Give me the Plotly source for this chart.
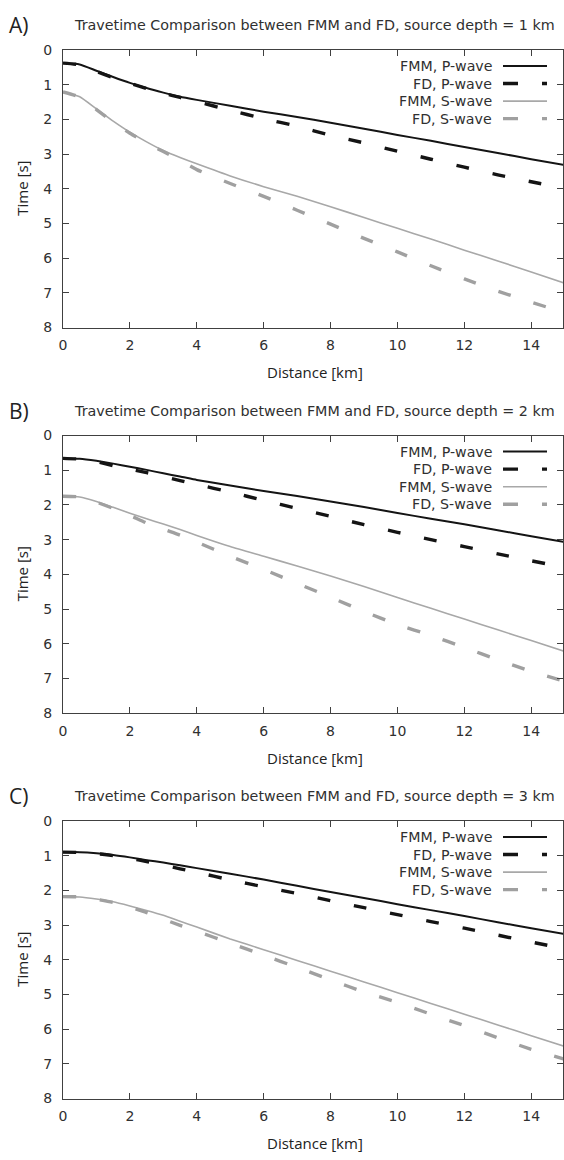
import plotly.graph_objects as go
from plotly.subplots import make_subplots

# Receiver distance along the surface [km]
distance = [0, 0.5, 1, 1.5, 2, 2.5, 3, 3.5, 4, 5, 6, 7, 8, 9, 10, 11, 12, 13, 14, 15]

panel_letters = ["A)", "B)", "C)"]
source_depths = [1, 2, 3]

# Travel times [s], source depth = 1 km
fmm_p_1 = [0.38, 0.42, 0.60, 0.78, 0.95, 1.10, 1.23, 1.35, 1.44, 1.61, 1.78, 1.93, 2.10, 2.27, 2.45, 2.62, 2.80, 2.97, 3.15, 3.32]
fd_p_1 = [0.38, 0.43, 0.62, 0.80, 0.96, 1.11, 1.25, 1.37, 1.49, 1.74, 1.98, 2.20, 2.46, 2.68, 2.92, 3.15, 3.38, 3.60, 3.80, 3.99]
fmm_s_1 = [1.21, 1.35, 1.70, 2.05, 2.37, 2.65, 2.90, 3.10, 3.28, 3.63, 3.94, 4.22, 4.52, 4.83, 5.14, 5.45, 5.77, 6.08, 6.40, 6.72]
fd_s_1 = [1.21, 1.36, 1.72, 2.08, 2.40, 2.68, 2.93, 3.18, 3.45, 3.85, 4.22, 4.62, 5.02, 5.43, 5.82, 6.22, 6.60, 6.95, 7.27, 7.57]

# Travel times [s], source depth = 2 km
fmm_p_2 = [0.66, 0.67, 0.73, 0.81, 0.90, 0.99, 1.09, 1.18, 1.28, 1.44, 1.60, 1.74, 1.90, 2.06, 2.23, 2.40, 2.56, 2.73, 2.90, 3.07]
fd_p_2 = [0.66, 0.68, 0.75, 0.87, 0.97, 1.07, 1.18, 1.30, 1.41, 1.63, 1.87, 2.10, 2.33, 2.57, 2.79, 3.00, 3.20, 3.41, 3.61, 3.80]
fmm_s_2 = [1.75, 1.77, 1.90, 2.07, 2.24, 2.40, 2.55, 2.71, 2.88, 3.20, 3.48, 3.76, 4.05, 4.35, 4.67, 4.98, 5.29, 5.60, 5.91, 6.22]
fd_s_2 = [1.75, 1.77, 1.92, 2.10, 2.30, 2.52, 2.70, 2.87, 3.07, 3.48, 3.86, 4.26, 4.66, 5.07, 5.45, 5.76, 6.11, 6.46, 6.80, 7.08]

# Travel times [s], source depth = 3 km
fmm_p_3 = [0.90, 0.90, 0.93, 0.98, 1.05, 1.13, 1.20, 1.28, 1.36, 1.52, 1.69, 1.87, 2.05, 2.22, 2.40, 2.57, 2.74, 2.92, 3.09, 3.26]
fd_p_3 = [0.90, 0.91, 0.94, 1.00, 1.08, 1.17, 1.27, 1.38, 1.48, 1.70, 1.90, 2.09, 2.30, 2.50, 2.70, 2.90, 3.09, 3.29, 3.49, 3.68]
fmm_s_3 = [2.18, 2.19, 2.25, 2.33, 2.45, 2.58, 2.72, 2.89, 3.06, 3.40, 3.71, 4.02, 4.33, 4.64, 4.95, 5.26, 5.57, 5.88, 6.19, 6.50]
fd_s_3 = [2.18, 2.19, 2.26, 2.35, 2.48, 2.64, 2.83, 3.01, 3.18, 3.52, 3.87, 4.22, 4.58, 4.93, 5.23, 5.57, 5.90, 6.25, 6.58, 6.87]

series_names = ["FMM, P-wave", "FD, P-wave", "FMM, S-wave", "FD, S-wave"]
panels = [
    [fmm_p_1, fd_p_1, fmm_s_1, fd_s_1],
    [fmm_p_2, fd_p_2, fmm_s_2, fd_s_2],
    [fmm_p_3, fd_p_3, fmm_s_3, fd_s_3],
]

x_ticks = [0, 2, 4, 6, 8, 10, 12, 14]
y_ticks = [0, 1, 2, 3, 4, 5, 6, 7, 8]

# line styles for the four series
DASH = "13px,24px"
styles = [
    dict(color="#141414", width=2.0, dash="solid"),
    dict(color="#141414", width=3.4, dash=DASH),
    dict(color="#a8a8a8", width=1.6, dash="solid"),
    dict(color="#a0a0a0", width=3.4, dash=DASH),
]

W, H = 564, 1160
ML, MR = 63, 1
PLOT_W = W - ML - MR
panel_tops = [42.5, 433.5, 824.3]   # pixel rows of the top frame edges
PANEL_H = 281.5

TICK_FONT = "DejaVu Sans"
LABEL_FONT = "Open Sans"
TEXT_COLOR = "#303030"
AXIS_COLOR = "#404040"


def px_x(px):
    return (px - ML) / PLOT_W


def px_y(py):
    return 1 - py / H


fig = make_subplots(rows=3, cols=1)

for i, series in enumerate(panels):
    for name, vals, st in zip(series_names, series, styles):
        fig.add_trace(
            go.Scatter(
                x=distance, y=vals, mode="lines", name=name, showlegend=False,
                line=dict(color=st["color"], width=st["width"], dash=st["dash"],
                          shape="spline", smoothing=0.5),
            ),
            row=i + 1, col=1,
        )

annotations = []
shapes = []
for i in range(3):
    top = panel_tops[i]
    bottom = top + PANEL_H
    suffix = "" if i == 0 else str(i + 1)
    fig.layout["yaxis" + suffix].domain = [px_y(bottom), px_y(top)]
    fig.layout["xaxis" + suffix].domain = [0, 1]

    # panel letter and title
    annotations.append(dict(
        text=panel_letters[i], xref="paper", yref="paper",
        x=px_x(7), y=px_y(top - 25), xanchor="left", yanchor="middle",
        showarrow=False, font=dict(family=LABEL_FONT, size=21, color="#222")))
    annotations.append(dict(
        text=f"Travetime Comparison between FMM and FD, source depth = {source_depths[i]} km",
        xref="paper", yref="paper", x=px_x(314), y=px_y(top - 25),
        xanchor="center", yanchor="middle", showarrow=False,
        font=dict(family=TICK_FONT, size=14.3, color=TEXT_COLOR)))
    # axis titles
    annotations.append(dict(
        text="Distance [km]", xref="paper", yref="paper", x=px_x(315), y=px_y(bottom + 45),
        xanchor="center", yanchor="middle", showarrow=False,
        font=dict(family=LABEL_FONT, size=15, color="#222")))
    annotations.append(dict(
        text="Time [s]", xref="paper", yref="paper", x=px_x(22), y=px_y(top + PANEL_H / 2),
        xanchor="center", yanchor="middle", showarrow=False, textangle=-90,
        font=dict(family=LABEL_FONT, size=15, color="#222")))

    # key in the upper right corner: right-aligned labels, line samples to the right
    for k, (name, st) in enumerate(zip(series_names, styles)):
        row_y = top + 16.3 + k * 17.8
        annotations.append(dict(
            text=name, xref="paper", yref="paper", x=px_x(494), y=px_y(row_y),
            xanchor="right", yanchor="middle", showarrow=False,
            font=dict(family=TICK_FONT, size=14.2, color=TEXT_COLOR)))
        dashed = st["dash"] != "solid"
        shapes.append(dict(
            type="line", xref="paper", yref="paper",
            x0=px_x(503), x1=px_x(547), y0=px_y(row_y), y1=px_y(row_y),
            line=dict(color=st["color"], width=st["width"],
                      dash="15px,24px" if dashed else "solid")))

axis_common = dict(
    showline=True, linecolor=AXIS_COLOR, linewidth=1, mirror="allticks",
    ticks="inside", ticklen=6, tickcolor=AXIS_COLOR, tickwidth=1,
    showgrid=False, zeroline=False,
    tickfont=dict(family=TICK_FONT, size=14, color=TEXT_COLOR),
)
fig.update_xaxes(range=[0, 14.95], tickvals=x_ticks, ticklabelstandoff=5, **axis_common)
fig.update_yaxes(range=[8, 0], tickvals=y_ticks, ticklabelstandoff=7, **axis_common)

fig.update_layout(
    width=W, height=H,
    margin=dict(l=ML, r=MR, t=0, b=0),
    paper_bgcolor="white", plot_bgcolor="white",
    showlegend=False,
    annotations=annotations,
    shapes=shapes,
)

fig.write_html("out.html")
